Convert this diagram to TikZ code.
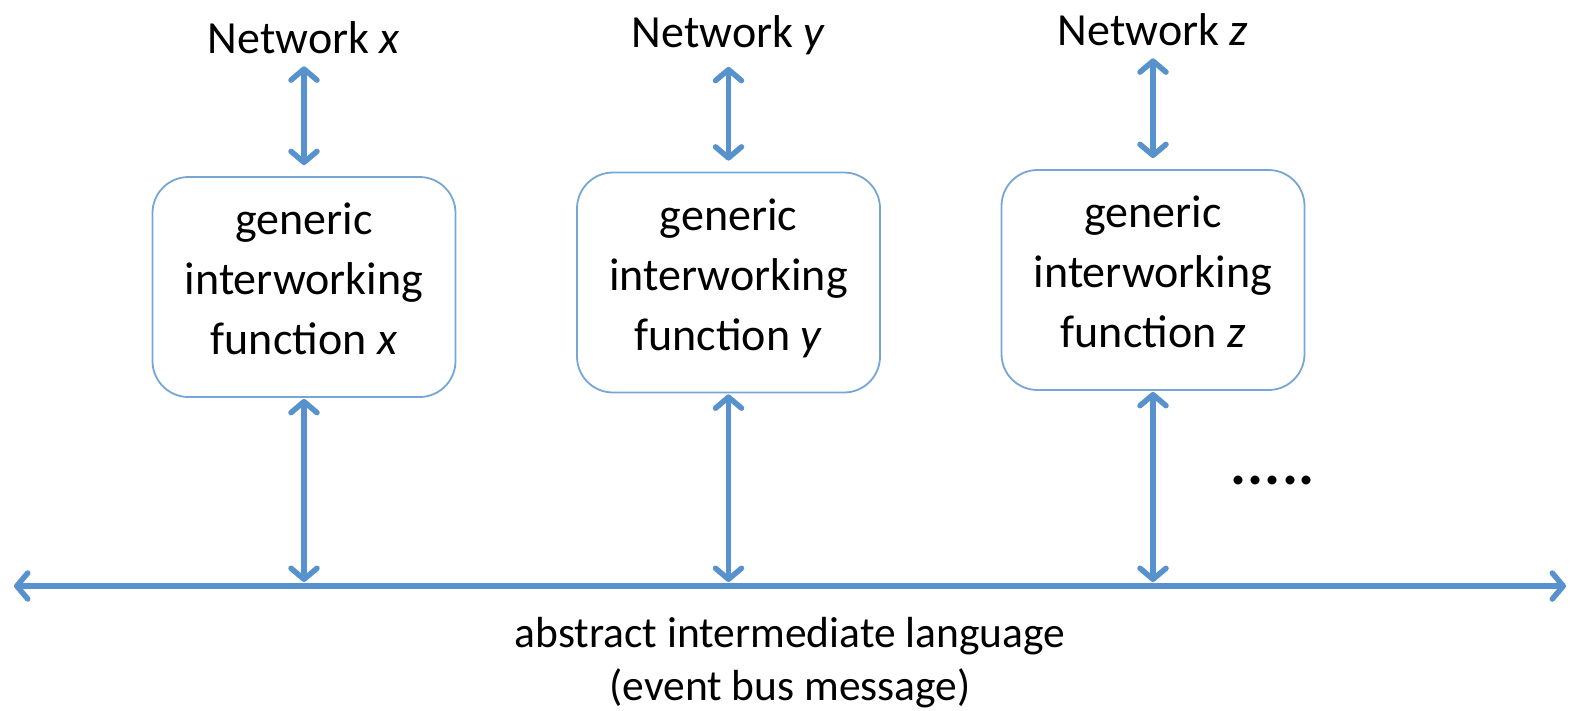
\documentclass[tikz,border=0pt]{standalone}
\usepackage{fontspec}
\setmainfont{Carlito}
\usetikzlibrary{arrows.meta}
\definecolor{arrowblue}{RGB}{88,146,204}
\definecolor{boxblue}{RGB}{118,166,212}
\newcommand{\botstrut}{\rule[-16pt]{0pt}{16pt}}
\begin{document}
\begin{tikzpicture}[x=1pt,y=-1pt,
  fbox/.style={draw=boxblue, line width=1.8pt, rounded corners=36pt, minimum width=303pt, minimum height=220pt, inner sep=0pt, align=center, font=\fontsize{46}{60}\selectfont},
  lab/.style={inner sep=0pt, font=\fontsize{46}{55}\selectfont, align=center},
  dotlab/.style={inner sep=0pt, font=\fontsize{60}{60}\selectfont\bfseries},
  buslab/.style={inner sep=0pt, font=\fontsize{43.5}{53}\selectfont, align=center},
  link/.style={draw=arrowblue, line width=5.5pt, {Straight Barb[length=11pt,width=26pt,round]}-{Straight Barb[length=11pt,width=26pt,round]}},
]
\useasboundingbox (0,0) rectangle (1570,710);
\node[fbox] (bx) at (304,287) {generic\\interworking\\function \textit{x}\botstrut};
\node[fbox] (by) at (728.5,282.5) {generic\\interworking\\function \textit{y}\botstrut};
\node[fbox] (bz) at (1153,280) {generic\\interworking\\function \textit{z}\botstrut};
\node[lab] (nx) at (304,38) {Network \textit{x}};
\node[lab] (ny) at (728.5,35) {Network \textit{y}};
\node[lab] (nz) at (1153,30) {Network \textit{z}};
\coordinate (busL) at (14,586);
\coordinate (busR) at (1566,586);
\draw[link] (busL) -- (busR);
\draw[link, shorten <=12pt, shorten >=11pt] (nx.south) -- (bx.north);
\draw[link, shorten <=12pt, shorten >=11pt] (ny.south) -- (by.north);
\draw[link, shorten <=12pt, shorten >=11pt] (nz.south) -- (bz.north);
\draw[link, shorten <=1pt, shorten >=4pt] (bx.south) -- (bx.south |- busL);
\draw[link, shorten <=1pt, shorten >=4pt] (by.south) -- (by.south |- busL);
\draw[link, shorten <=1pt, shorten >=4pt] (bz.south) -- (bz.south |- busL);
\node[dotlab] (dots) at (1273,480) {.\kern1pt.\kern1pt.\kern1pt.\kern1pt.};
\node[buslab] (bus) at (790,663) {abstract intermediate language\\(event bus message)};
\end{tikzpicture}
\end{document}
